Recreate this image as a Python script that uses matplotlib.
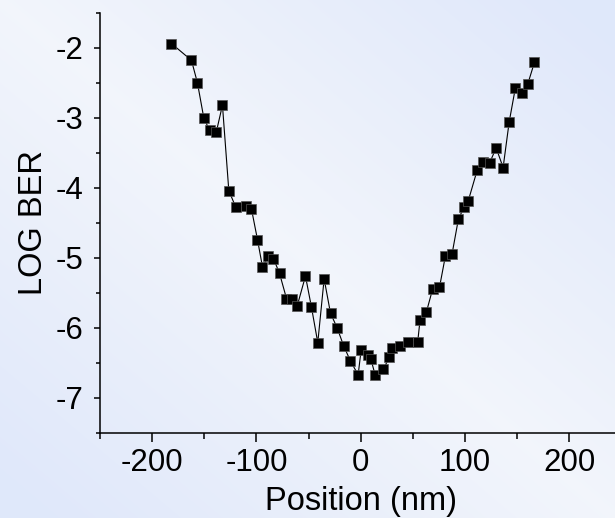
import numpy as np
import matplotlib.pyplot as plt

# data
position = [-181.5, -162.3, -156.6, -150.5, -145.0, -138.6, -132.6, -126.5, -120.0, -109.9,
            -104.8, -99.0, -94.2, -88.5, -83.7, -77.9, -71.2, -65.5, -61.0, -53.0,
            -47.3, -41.2, -35.1, -29.0, -22.6, -16.3, -9.9, -2.5, 0.4, 6.7,
            9.6, 13.8, 21.5, 27.5, 30.4, 38.0, 45.0, 54.6, 56.9, 63.0,
            69.0, 75.5, 81.2, 87.6, 93.7, 99.4, 103.0, 111.6, 117.6, 123.7,
            129.8, 136.5, 142.3, 148.3, 154.4, 160.1, 166.5]
log_ber = [-1.94, -2.18, -2.50, -3.00, -3.18, -3.21, -2.82, -4.04, -4.27, -4.26,
           -4.30, -4.74, -5.13, -4.98, -5.01, -5.22, -5.58, -5.58, -5.69, -5.26,
           -5.70, -6.21, -5.30, -5.79, -6.00, -6.26, -6.47, -6.67, -6.31, -6.38,
           -6.44, -6.67, -6.59, -6.42, -6.29, -6.26, -6.20, -6.20, -5.88, -5.77,
           -5.44, -5.42, -4.97, -4.94, -4.44, -4.27, -4.19, -3.75, -3.63, -3.64,
           -3.43, -3.71, -3.06, -2.57, -2.64, -2.52, -2.21]

x_ticks = [-200, -100, 0, 100, 200]
y_ticks = [-2, -3, -4, -5, -6, -7]

plt.rcParams['font.family'] = ['Liberation Sans', 'DejaVu Sans']
plt.rcParams['axes.unicode_minus'] = False

fig = plt.figure(figsize=(6.15, 5.18), dpi=100)

# background gradient: light along the main diagonal, bluer in the other corners
W, H = 615, 518
u = np.linspace(0, 1, W)[None, :]
v = np.linspace(0, 1, H)[:, None]
t = np.clip(np.abs(u - v) * 1.1, 0, 1)
light = np.array([0.95, 0.962, 0.985])
blue = np.array([0.878, 0.91, 0.982])
img = light[None, None, :] + t[:, :, None] * (blue - light)[None, None, :]
bg = fig.add_axes([0, 0, 1, 1])
bg.imshow(img, aspect='auto', extent=[0, 1, 0, 1])
bg.axis('off')

ax = fig.add_axes([100 / W, (H - 433) / H, 521.5 / W, (433 - 12.7) / H])
ax.patch.set_alpha(0)
ax.plot(position, log_ber, color='black', lw=0.8, marker='s', markersize=6.5,
        markerfacecolor='black', markeredgecolor='#555555', markeredgewidth=0.5)

ax.set_xlim(-250, 250)
ax.set_ylim(-7.5, -1.5)
ax.set_xticks(x_ticks)
ax.set_yticks(y_ticks)
ax.set_xticks([-250, -150, -50, 50, 150], minor=True)
ax.set_yticks([-7.5, -6.5, -5.5, -4.5, -3.5, -2.5, -1.5], minor=True)

for s in ['top', 'right']:
    ax.spines[s].set_visible(False)
for s in ['left', 'bottom']:
    ax.spines[s].set_linewidth(1.1)

ax.tick_params(axis='x', which='major', length=6.8, width=1.1, pad=4, labelsize=22.5)
ax.tick_params(axis='x', which='minor', length=4.3, width=1.1)
ax.tick_params(axis='y', which='major', length=4.0, width=1.1, pad=8, labelsize=22.5)
ax.tick_params(axis='y', which='minor', length=3.0, width=1.1)

ax.set_xlabel('Position (nm)', fontsize=23.5, labelpad=6)
ax.set_ylabel('LOG BER', fontsize=23.5, labelpad=5)

fig.savefig('out.png', dpi=100)
